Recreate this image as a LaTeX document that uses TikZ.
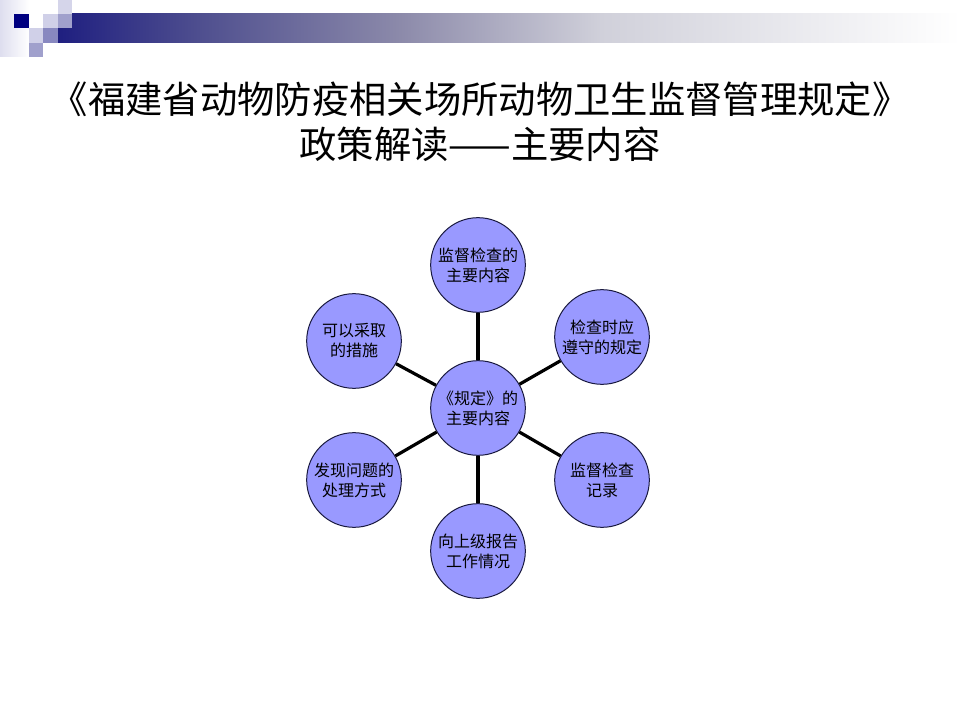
\documentclass[tikz,border=0pt]{standalone}
\usepackage{fontspec}
\newfontfamily\cjk{Noto Sans CJK SC}
\definecolor{navy}{HTML}{000080}
\definecolor{barA}{HTML}{1F1F80}
\definecolor{barB}{HTML}{4F4F8F}
\definecolor{barC}{HTML}{8C8AAA}
\definecolor{barD}{HTML}{D0D0DA}
\definecolor{sqLight}{HTML}{D0D0E8}
\definecolor{sqMid}{HTML}{A0A0CC}
\definecolor{sqMid2}{HTML}{8888C0}
\definecolor{bubble}{HTML}{9999FF}
\definecolor{rim}{HTML}{1A1A40}
\tikzset{
  bubblenode/.style={circle, draw=rim, line width=0.75pt, fill=bubble, minimum size=71pt, inner sep=0pt,
    align=center, font=\cjk\fontsize{12pt}{15pt}\selectfont},
  spoke/.style={line width=2.4pt, black},
  titletext/.style={font=\cjk\fontsize{28pt}{34pt}\selectfont, align=center}
}
\begin{document}
\begin{tikzpicture}[x=0.75pt,y=-0.75pt]
\useasboundingbox (0,0) rectangle (960,720);
% decoration
\shade[left color=sqLight!70, right color=white] (0,0) rectangle (29,57);
\shade[left color=barA, right color=barB] (58,14) rectangle (200.5,43);
\shade[left color=barB, right color=barC] (200,14) rectangle (400.5,43);
\shade[left color=barC, right color=barD] (400,14) rectangle (600.5,43);
\shade[left color=barD, right color=white] (600,14) rectangle (960,43);
\fill[navy] (14,14) rectangle (28.5,28.5);
\fill[sqLight] (43,14) rectangle (58,28.5);
\fill[sqLight!90!white] (58,0) rectangle (72,14);
\fill[sqMid] (58,14) rectangle (72,28.5);
\fill[sqLight] (29,28.5) rectangle (43,43);
\fill[sqMid2] (43,28.5) rectangle (58,43);
\fill[sqMid] (29,43) rectangle (43,57);
% title
\node[titletext] (title) at (480,122) {《福建省动物防疫相关场所动物卫生监督管理规定》\\政策解读——主要内容};
% bubbles
\node[bubblenode] (c) at (478,408) {《规定》的\\主要内容};
\node[bubblenode] (n1) at (478,265) {监督检查的\\主要内容};
\node[bubblenode] (n2) at (602,337) {检查时应\\遵守的规定};
\node[bubblenode] (n3) at (602,480) {监督检查\\记录};
\node[bubblenode] (n4) at (478,551) {向上级报告\\工作情况};
\node[bubblenode] (n5) at (354,480) {发现问题的\\处理方式};
\node[bubblenode] (n6) at (354,341) {可以采取\\的措施};
% spokes
\foreach \n in {n1,n2,n3,n4,n5,n6}{\draw[spoke] (c) -- (\n);}
\end{tikzpicture}
\end{document}
